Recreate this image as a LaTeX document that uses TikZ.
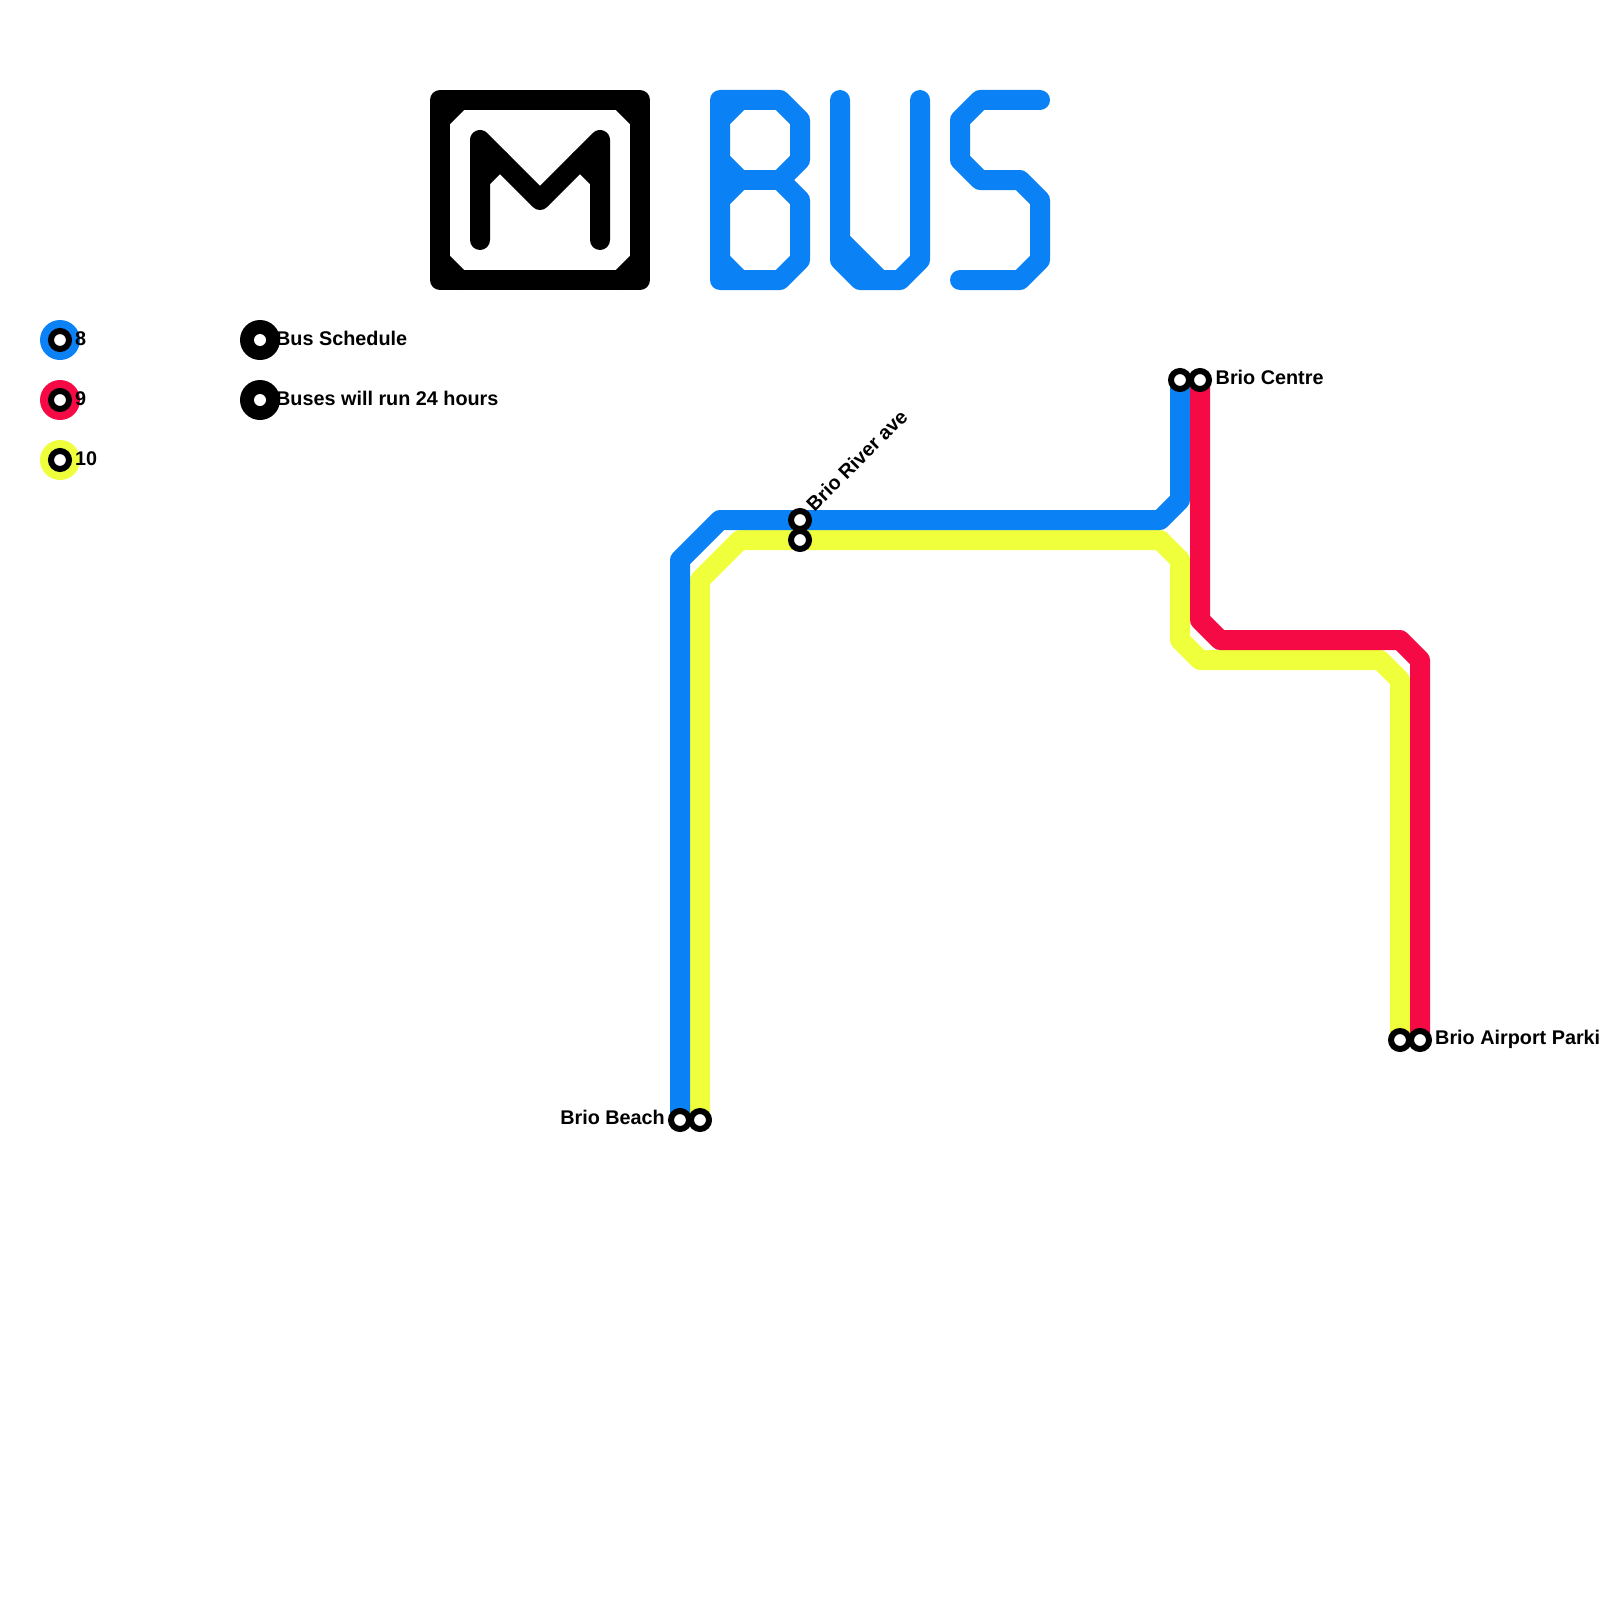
\documentclass[tikz,border=0pt]{standalone}
\usepackage{fontspec}
\setmainfont{Liberation Sans}
\usepackage{xcolor}
\usepackage{tikz}
\definecolor{lineblue}{HTML}{0A82F5}
\definecolor{linered}{HTML}{F50A46}
\definecolor{lineyellow}{HTML}{F0FF3C}
\tikzset{
	routeline/.style={line width=20pt, line join=round},
	logoline/.style={line width=20pt, line join=round, line cap=round},
	stationring/.style={circle, draw=black, fill=white, line width=6pt, minimum size=18pt, inner sep=0pt},
	legenddisc/.style={circle, minimum size=40pt, inner sep=0pt},
	stationlabel/.style={font=\fontsize{19.8}{24}\selectfont\bfseries, inner sep=0pt, anchor=base west},
}

\begin{document}
\begin{tikzpicture}[x=1pt, y=-1pt]
			\useasboundingbox (0,0) rectangle (1600,1600);
			\coordinate (beachblue) at (680,1120);
			\coordinate (beachyellow) at (700,1120);
			\coordinate (riverblue) at (800,520);
			\coordinate (riveryellow) at (800,540);
			\coordinate (centreblue) at (1180,380);
			\coordinate (centrered) at (1200,380);
			\coordinate (airportyellow) at (1400,1040);
			\coordinate (airportred) at (1420,1040);
			% logo
			\draw[logoline, black] (440,100) -- (640,100) -- (640,280) -- (440,280) -- cycle;
			\draw[logoline, black] (440,120) -- (460,100) (620,100) -- (640,120) (640,260) -- (620,280) (460,280) -- (440,260);
			\draw[logoline, black] (480,240) -- (480,140) -- (540,200) -- (600,140) -- (600,240);
			\draw[logoline, black] (480,180) -- (500,160) (600,180) -- (580,160);
			% bus lettering
			\draw[logoline, lineblue] (720,100) -- (780,100) -- (800,120) -- (800,160) -- (780,180) -- (800,200) -- (800,260) -- (780,280) -- (720,280) -- cycle;
			\draw[logoline, lineblue] (720,180) -- (780,180);
			\draw[logoline, lineblue] (720,120) -- (740,100) (720,160) -- (740,180) -- (720,200) (720,260) -- (740,280);
			\draw[logoline, lineblue] (840,100) -- (840,260) -- (860,280) -- (900,280) -- (920,260) -- (920,100);
			\draw[logoline, lineblue] (840,240) -- (880,280);
			\draw[logoline, lineblue] (1040,100) -- (980,100) -- (960,120) -- (960,160) -- (980,180) -- (1020,180) -- (1040,200) -- (1040,260) -- (1020,280) -- (960,280);
			% routes
			\draw[routeline, lineyellow] (beachyellow) -- (700,580) -- (740,540) -- (1160,540) -- (1180,560) -- (1180,640) -- (1200,660) -- (1380,660) -- (1400,680) -- (airportyellow);
			\draw[routeline, lineblue] (beachblue) -- (680,560) -- (720,520) -- (1160,520) -- (1180,500) -- (centreblue);
			\draw[routeline, linered] (centrered) -- (1200,620) -- (1220,640) -- (1400,640) -- (1420,660) -- (airportred);
			\foreach \stop in {beachblue, beachyellow, riverblue, riveryellow, centreblue, centrered, airportyellow, airportred}
				\node[stationring] (ring\stop) at (\stop) {};
			% legend
			\node[legenddisc, fill=lineblue] (keyeight) at (60,340) {};
			\node[legenddisc, fill=linered] (keynine) at (60,400) {};
			\node[legenddisc, fill=lineyellow] (keyten) at (60,460) {};
			\foreach \key in {keyeight, keynine, keyten}
				\node[stationring] at (\key) {};
			\node[legenddisc, fill=black] (noteschedule) at (260,340) {};
			\node[legenddisc, fill=black] (notehours) at (260,400) {};
			\fill[white] (noteschedule) circle (6pt);
			\fill[white] (notehours) circle (6pt);
			\node[stationlabel] (texteight) at (75,345) {8};
			\node[stationlabel] (textnine) at (75,405) {9};
			\node[stationlabel] (textten) at (75,465) {10};
			\node[stationlabel] (textschedule) at (276,345) {Bus Schedule};
			\node[stationlabel] (texthours) at (276,405) {Buses will run 24 hours};
			% station names
			\node[stationlabel, anchor=base east] (namebeach) at (665,1124.5) {Brio Beach};
			\node[stationlabel, rotate=45] (nameriver) at (814.5,512.5) {Brio River ave};
			\node[stationlabel] (namecentre) at (1215.5,384.5) {Brio Centre};
			\node[stationlabel] (nameairport) at (1435,1044.5) {Brio Airport Parki};
		\end{tikzpicture}
\end{document}
